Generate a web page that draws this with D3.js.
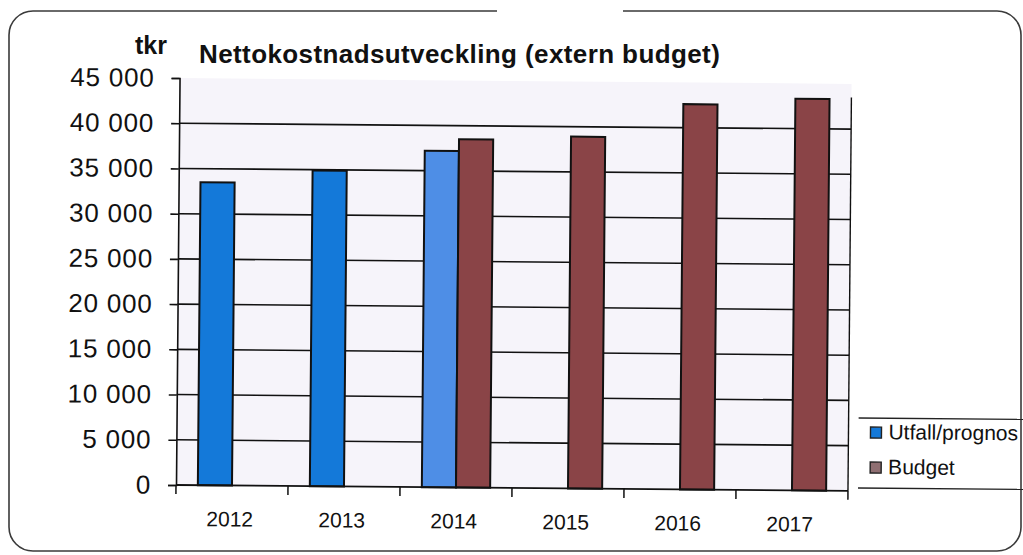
<!DOCTYPE html>
<html>
<head>
<meta charset="utf-8">
<script src="https://cdn.jsdelivr.net/npm/d3@7"></script>
<style>
  html, body { margin: 0; padding: 0; background: #ffffff; }
  svg { display: block; font-family: "Liberation Sans", Arial, sans-serif; }
</style>
</head>
<body>
<svg id="chart" width="1023" height="555"></svg>
<script>
// Nettokostnadsutveckling, tkr
const years = ["2012", "2013", "2014", "2015", "2016", "2017"];
const seriesNames = ["Utfall/prognos", "Budget"];
const utfall = [33500, 34900, 37200, null, null, null];
const budget = [null, null, 38500, 38900, 42600, 43300];
const prognosYears = ["2014"];
const yTicks = [0, 5000, 10000, 15000, 20000, 25000, 30000, 35000, 40000, 45000];

const colors = { utfall: "#1479d9", prognos: "#4e8ee6", budget: "#8a4447" };

const svg = d3.select("#chart");
const plot = { left: 176, right: 848, top: 78, bottom: 485 };

// outer frame (rounded), with the gap along the top edge
const fx0 = 9, fy0 = 11, fx1 = 1021, fy1 = 551, r = 24;
const frame = d3.path();
frame.moveTo(497, fy0);
frame.lineTo(fx0 + r, fy0);
frame.arcTo(fx0, fy0, fx0, fy0 + r, r);
frame.lineTo(fx0, fy1 - r);
frame.arcTo(fx0, fy1, fx0 + r, fy1, r);
frame.lineTo(fx1 - r, fy1);
frame.arcTo(fx1, fy1, fx1, fy1 - r, r);
frame.lineTo(fx1, fy0 + r);
frame.arcTo(fx1, fy0, fx1 - r, fy0, r);
frame.lineTo(623, fy0);
svg.append("path").attr("d", frame.toString())
  .attr("fill", "none").attr("stroke", "#3a3a3a").attr("stroke-width", 1.6);

const g = svg.append("g").attr("transform", `rotate(0.5, ${plot.left}, ${plot.bottom})`);

const x = d3.scaleBand().domain(years).range([plot.left, plot.right])
  .paddingInner(0.39).paddingOuter(0.195);
const x1 = d3.scaleBand().domain(seriesNames).range([0, x.bandwidth()]);
const y = d3.scaleLinear().domain([0, 45000]).range([plot.bottom, plot.top]);

// plot area tint
g.append("rect").attr("x", plot.left).attr("y", plot.top)
  .attr("width", plot.right - plot.left).attr("height", plot.bottom - plot.top)
  .attr("fill", "#f6f4fa");

// horizontal gridlines
g.append("g").selectAll("line").data(yTicks.filter(v => v > 0 && v < 45000)).join("line")
  .attr("x1", plot.left).attr("x2", plot.right)
  .attr("y1", d => y(d)).attr("y2", d => y(d))
  .attr("stroke", "#111").attr("stroke-width", 1.6);

// right edge of the plot area
g.append("line").attr("x1", plot.right).attr("x2", plot.right)
  .attr("y1", y(43500)).attr("y2", plot.bottom)
  .attr("stroke", "#111").attr("stroke-width", 1.4);

// bars
const rows = years.map((yr, i) => ({ year: yr, values: [
  { series: "Utfall/prognos", value: utfall[i],
    color: prognosYears.includes(yr) ? colors.prognos : colors.utfall },
  { series: "Budget", value: budget[i], color: colors.budget }
].filter(d => d.value != null) }));

g.append("g").selectAll("g").data(rows).join("g")
  .attr("transform", d => `translate(${x(d.year)},0)`)
  .selectAll("rect").data(d => d.values).join("rect")
  .attr("x", d => x1(d.series))
  .attr("width", x1.bandwidth())
  .attr("y", d => y(d.value))
  .attr("height", d => y(0) - y(d.value))
  .attr("fill", d => d.color)
  .attr("stroke", "#111").attr("stroke-width", 2);

// y axis
const yAxis = d3.axisLeft(y).tickValues(yTicks).tickSize(8).tickPadding(17)
  .tickFormat(d => d3.format(",")(d).replace(/,/g, " "));
const ya = g.append("g").attr("transform", `translate(${plot.left},0)`).call(yAxis);
ya.select(".domain").attr("stroke", "#111").attr("stroke-width", 1.6);
ya.selectAll(".tick line").attr("stroke", "#111").attr("stroke-width", 1.6);
ya.selectAll(".tick text").attr("font-size", 26).attr("fill", "#111")
  .attr("letter-spacing", 0.8)
  .attr("font-family", "'Liberation Sans', Arial, sans-serif");

// x axis with tick marks between categories
const xa = g.append("g").attr("transform", `translate(0,${plot.bottom})`);
xa.append("line").attr("x1", plot.left).attr("x2", plot.right)
  .attr("stroke", "#111").attr("stroke-width", 1.8);
const step = x.step();
const bounds = d3.range(years.length + 1).map(i => plot.left + i * step);
xa.selectAll("line.tk").data(bounds).join("line").attr("class", "tk")
  .attr("x1", d => d).attr("x2", d => d).attr("y1", 0).attr("y2", 9)
  .attr("stroke", "#111").attr("stroke-width", 1.5);
xa.selectAll("text").data(years).join("text")
  .attr("x", d => x(d) + x.bandwidth() / 2 - 2).attr("y", 41)
  .attr("text-anchor", "middle").attr("font-size", 21).attr("fill", "#111")
  .text(d => d);

// titles
svg.append("text").attr("x", 135).attr("y", 54).attr("font-size", 25)
  .attr("font-weight", "bold").attr("fill", "#111").text("tkr");
svg.append("text").attr("x", 199).attr("y", 63).attr("font-size", 26)
  .attr("font-weight", "bold").attr("fill", "#111").attr("letter-spacing", 0.4)
  .text("Nettokostnadsutveckling (extern budget)");

// legend
const lg = g.append("g");
lg.append("line").attr("x1", 858).attr("x2", 1023).attr("y1", 412).attr("y2", 412)
  .attr("stroke", "#222").attr("stroke-width", 1.4);
lg.append("line").attr("x1", 858).attr("x2", 1023).attr("y1", 482).attr("y2", 482)
  .attr("stroke", "#222").attr("stroke-width", 1.4);
const legendItems = [
  { name: seriesNames[0], color: colors.utfall },
  { name: seriesNames[1], color: "#8f6f72" }
];
const li = lg.selectAll("g.item").data(legendItems).join("g").attr("class", "item")
  .attr("transform", (d, i) => `translate(870,${421 + i * 35})`);
li.append("rect").attr("width", 11).attr("height", 11)
  .attr("fill", d => d.color).attr("stroke", "#222").attr("stroke-width", 1.4);
li.append("text").attr("x", 18).attr("y", 12).attr("font-size", 21).attr("fill", "#111")
  .text(d => d.name);
</script>
</body>
</html>
